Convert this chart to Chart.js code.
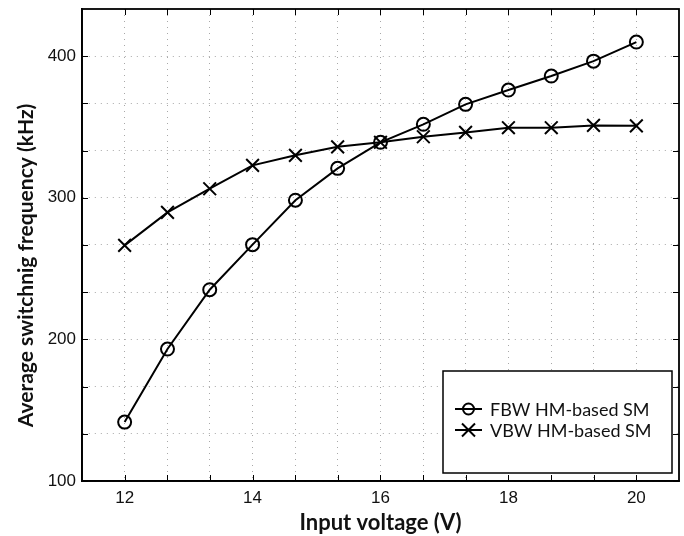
<!DOCTYPE html>
<html>
<head>
<meta charset="utf-8">
<script src="https://cdn.jsdelivr.net/npm/chart.js@4/dist/chart.umd.min.js"></script>
<style>
html,body{margin:0;padding:0;background:#fff;}
#wrap{width:684px;height:536px;}
</style>
</head>
<body>
<div id="wrap"><canvas id="c" width="684" height="536"></canvas></div>
<script>
// ---- data ----
const inputVoltage = [12, 12.67, 13.33, 14, 14.67, 15.33, 16, 16.67, 17.33, 18, 18.67, 19.33, 20];
const fbwFreq = [141.6, 193.2, 235.1, 266.9, 298.3, 320.8, 339.2, 351.9, 366.0, 376.1, 386.0, 396.5, 410.0];
const vbwFreq = [266.4, 289.7, 306.4, 322.9, 330.0, 336.0, 339.2, 343.1, 346.2, 349.5, 349.5, 351.1, 350.8];
const seriesNames = ['FBW HM-based SM', 'VBW HM-based SM'];
const xTickLabels = [12, 14, 16, 18, 20];
const xGrid = [12, 12.667, 13.333, 14, 14.667, 15.333, 16, 16.667, 17.333, 18, 18.667, 19.333, 20];
const yTickLabels = [100, 200, 300, 400];
const yGrid = [100, 133.333, 166.667, 200, 233.333, 266.667, 300, 333.333, 366.667, 400];
const xTitle = 'Input voltage (V)';
const yTitle = 'Average switchnig frequency (kHz)';

const toPts = (ys) => inputVoltage.map((x, i) => ({x: x, y: ys[i]}));

const frameAndLegend = {
  id: 'frameAndLegend',
  afterDraw(chart) {
    const ctx = chart.ctx;
    const a = chart.chartArea;
    const xs = chart.scales.x, ys = chart.scales.y;
    ctx.save();
    // inward tick marks
    ctx.strokeStyle = '#000';
    ctx.lineWidth = 1;
    const L = 6;
    xGrid.forEach(v => {
      const px = Math.round(xs.getPixelForValue(v)) + 0.5;
      ctx.beginPath();
      ctx.moveTo(px, a.bottom); ctx.lineTo(px, a.bottom - L);
      ctx.moveTo(px, a.top); ctx.lineTo(px, a.top + L);
      ctx.stroke();
    });
    yGrid.forEach(v => {
      const py = Math.round(ys.getPixelForValue(v)) + 0.5;
      ctx.beginPath();
      ctx.moveTo(a.left, py); ctx.lineTo(a.left + L, py);
      ctx.moveTo(a.right, py); ctx.lineTo(a.right - L, py);
      ctx.stroke();
    });
    // frame
    ctx.lineWidth = 1.8;
    ctx.strokeRect(a.left, a.top, a.right - a.left, a.bottom - a.top);

    // legend box
    const bw = 229, bh = 102;
    const bx = a.right - 7 - bw, by = a.bottom - 8 - bh;
    ctx.fillStyle = '#fff';
    ctx.fillRect(bx, by, bw, bh);
    ctx.lineWidth = 1.5;
    ctx.strokeStyle = '#000';
    ctx.strokeRect(bx, by, bw, bh);
    ctx.font = '18px Lato, "Open Sans", sans-serif';
    ctx.textBaseline = 'middle';
    ctx.textAlign = 'left';
    chart.data.datasets.forEach((ds, i) => {
      const cy = by + 38 + i * 21;
      const x0 = bx + 12, x1 = bx + 39, xm = (x0 + x1) / 2;
      ctx.strokeStyle = '#000';
      ctx.lineWidth = 2;
      ctx.beginPath(); ctx.moveTo(x0, cy); ctx.lineTo(x1, cy); ctx.stroke();
      ctx.beginPath();
      if (ds.pointStyle === 'circle') {
        ctx.arc(xm, cy, 5.5, 0, Math.PI * 2);
      } else {
        const r = 6.5;
        ctx.moveTo(xm - r, cy - r); ctx.lineTo(xm + r, cy + r);
        ctx.moveTo(xm - r, cy + r); ctx.lineTo(xm + r, cy - r);
      }
      ctx.stroke();
      ctx.fillStyle = '#111';
      ctx.fillText(ds.label, bx + 47, cy + 1);
    });
    ctx.restore();
  }
};

new Chart(document.getElementById('c'), {
  type: 'line',
  data: {
    datasets: [
      {
        label: seriesNames[0],
        data: toPts(fbwFreq),
        borderColor: '#000',
        borderWidth: 2,
        pointStyle: 'circle',
        pointRadius: 6.5,
        pointBorderWidth: 2,
        pointBackgroundColor: 'rgba(0,0,0,0)',
        pointBorderColor: '#000',
        tension: 0,
        clip: false
      },
      {
        label: seriesNames[1],
        data: toPts(vbwFreq),
        borderColor: '#000',
        borderWidth: 2,
        pointStyle: 'crossRot',
        pointRadius: 9,
        pointBorderWidth: 2,
        pointBorderColor: '#000',
        tension: 0,
        clip: false
      }
    ]
  },
  options: {
    responsive: false,
    animation: false,
    devicePixelRatio: 1,
    layout: {autoPadding: false, padding: {top: 9, right: 5, left: 0, bottom: 0}},
    plugins: {legend: {display: false}, tooltip: {enabled: false}},
    scales: {
      x: {
        type: 'linear',
        min: 34 / 3,
        max: 62 / 3,
        afterBuildTicks: (s) => { s.ticks = xGrid.map(v => ({value: v})); },
        afterFit: (s) => { s.height = 55; s.paddingLeft = 0; s.paddingRight = 0; },
        ticks: {
          autoSkip: false,
          maxRotation: 0,
          padding: 7,
          color: '#111',
          font: {family: '"Liberation Sans", Arial, sans-serif', size: 17},
          callback: (v) => { const m = xTickLabels.find(t => Math.abs(t - v) < 0.01); return m === undefined ? '' : String(m); }
        },
        grid: {color: '#a8a8a8', lineWidth: 1, drawTicks: false},
        border: {display: true, color: '#000', width: 1.8, dash: [1, 5]},
        title: {
          display: true,
          text: xTitle,
          color: '#111',
          font: {family: 'Lato, "Open Sans", sans-serif', size: 22, weight: 'bold'},
          padding: {top: 0, bottom: 0}
        }
      },
      y: {
        type: 'linear',
        min: 100,
        max: 1300 / 3,
        afterBuildTicks: (s) => { s.ticks = yGrid.map(v => ({value: v})); },
        afterFit: (s) => { s.width = 82; s.paddingTop = 0; s.paddingBottom = 0; },
        ticks: {
          autoSkip: false,
          padding: 6,
          color: '#111',
          font: {family: '"Liberation Sans", Arial, sans-serif', size: 17},
          callback: (v) => { const m = yTickLabels.find(t => Math.abs(t - v) < 0.01); return m === undefined ? '' : String(m); }
        },
        grid: {color: '#a8a8a8', lineWidth: 1, drawTicks: false},
        border: {display: true, color: '#000', width: 1.8, dash: [1, 5]},
        title: {
          display: true,
          text: yTitle + '        ',
          color: '#111',
          font: {family: 'Lato, "Open Sans", sans-serif', size: 21, weight: 'bold'},
          padding: {top: 14, bottom: 0}
        }
      }
    }
  },
  plugins: [frameAndLegend]
});
</script>
</body>
</html>
